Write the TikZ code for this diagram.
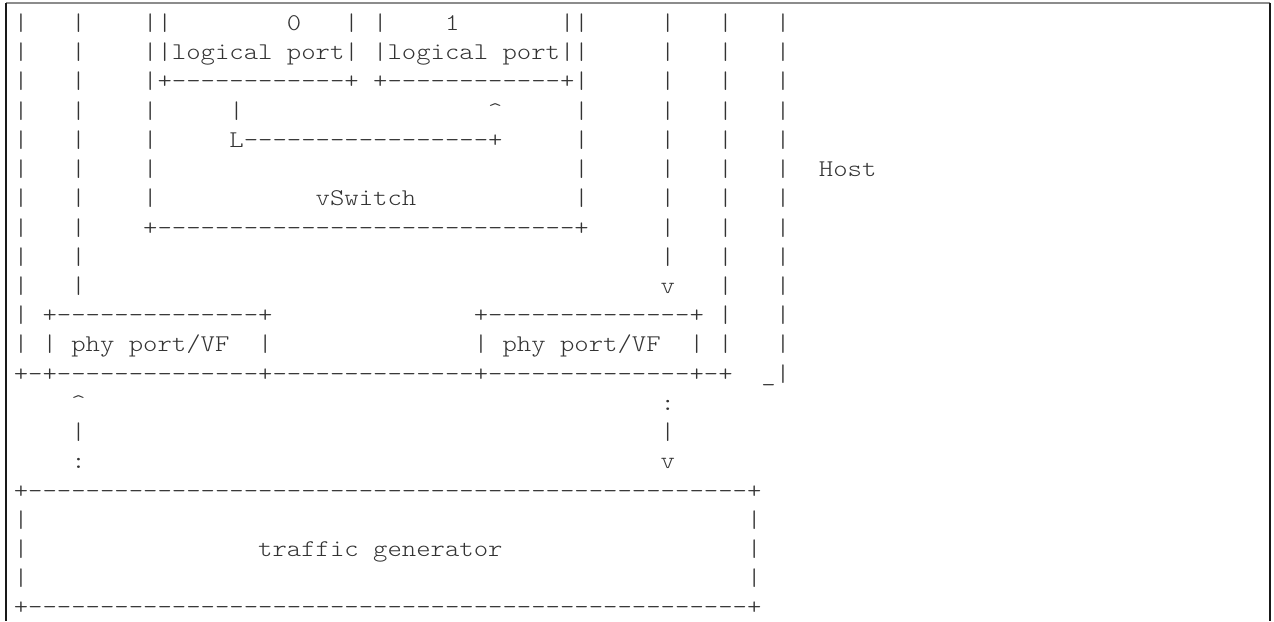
\documentclass[tikz,border=0pt]{standalone}
\usepackage{graphicx}
\usepackage{xcolor}
\usepackage{tikz}
\usetikzlibrary{positioning}
\colorlet{InkGray}{black!80}
\colorlet{FrameGray}{black!45}
\colorlet{FrameDark}{black!90}

% monospaced rows, spaces kept as they are typed
\newcommand\asciifont{\fontsize{12pt}{14pt}\ttfamily\fontseries{l}\selectfont}
\newcommand\asciirow{\begingroup\catcode`\ =12 \catcode`\^=12 \catcode`\_=12 \asciirowgo}
\newcommand\asciirowgo[2]{\endgroup%
  \node[asciiline] (row#1) at (13.8,{30.5+(#1-1)*29.22}) {\scalebox{1.141}[1]{#2}};}

\begin{document}
\begin{tikzpicture}[
  x=0.5pt, y=-0.5pt,
  asciiline/.style={anchor=base west, inner sep=0pt, outer sep=0pt, text=InkGray, font=\asciifont},
  frametop/.style={line width=1pt, FrameGray},
  frameside/.style={line width=0.8pt, FrameDark}
]
\useasboundingbox (0,0) rectangle (1274,621);

% Frame of the code block
\draw[frametop] (6,2.5) -- (1270,2.5);
\draw[frameside] (6,2.5) -- (6,621);
\draw[frameside] (1270,2.5) -- (1270,621);

% Host with vSwitch and logical ports
\asciirow{1}{|   |    ||        0   | |    1       ||     |   |   |}
\asciirow{2}{|   |    ||logical port| |logical port||     |   |   |}
\asciirow{3}{|   |    |+------------+ +------------+|     |   |   |}
\asciirow{4}{|   |    |     |                 ^     |     |   |   |}
\asciirow{5}{|   |    |     L-----------------+     |     |   |   |}
\asciirow{6}{|   |    |                             |     |   |   |  Host}
\asciirow{7}{|   |    |           vSwitch           |     |   |   |}
\asciirow{8}{|   |    +-----------------------------+     |   |   |}
\asciirow{9}{|   |                                        |   |   |}
\asciirow{10}{|   |                                        v   |   |}

% Physical ports
\asciirow{11}{| +--------------+              +--------------+ |   |}
\asciirow{12}{| | phy port/VF  |              | phy port/VF  | |   |}
\asciirow{13}{+-+--------------+--------------+--------------+-+  _|}

% Links to the traffic generator
\asciirow{14}{    ^                                        :}
\asciirow{15}{    |                                        |}
\asciirow{16}{    :                                        v}

% Traffic generator
\asciirow{17}{+--------------------------------------------------+}
\asciirow{18}{|                                                  |}
\asciirow{19}{|                traffic generator                 |}
\asciirow{20}{|                                                  |}
\asciirow{21}{+--------------------------------------------------+}

\end{tikzpicture}
\end{document}
